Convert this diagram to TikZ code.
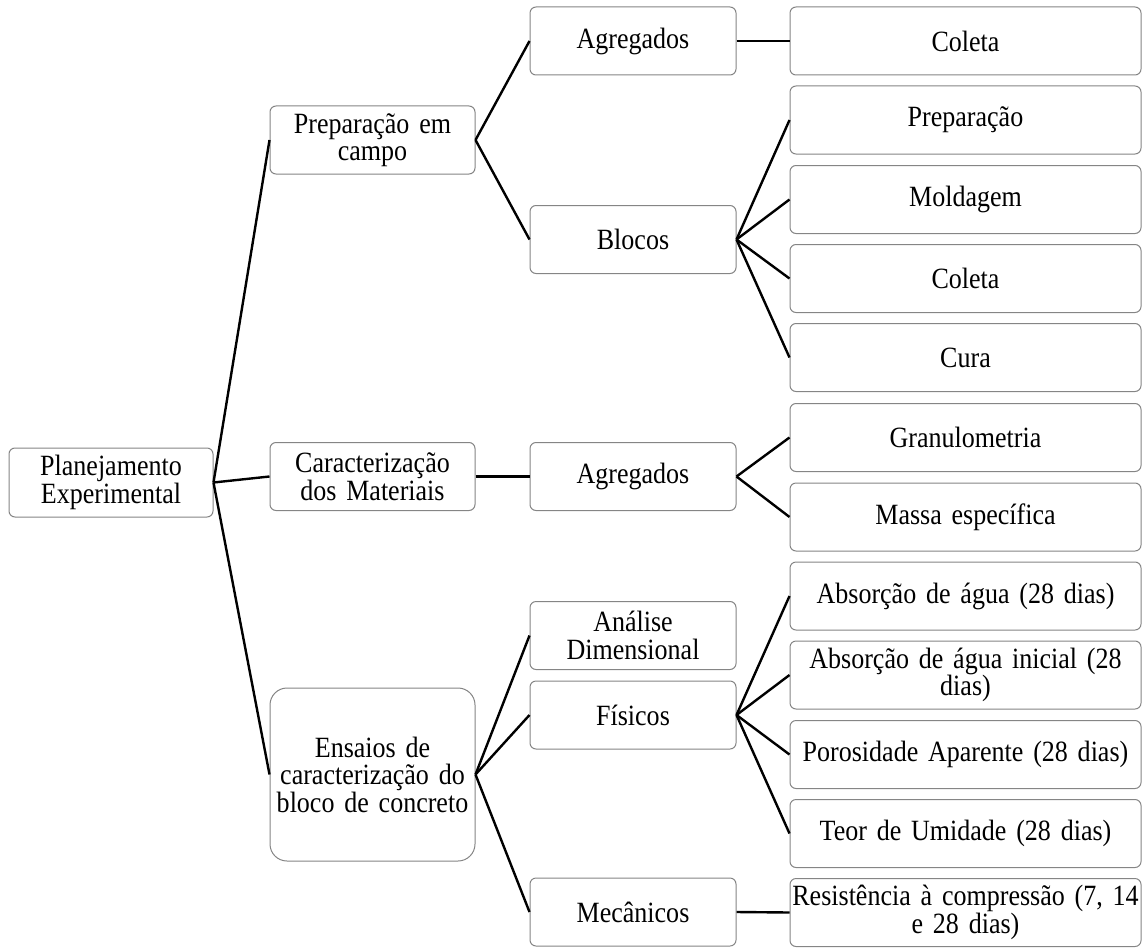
\documentclass[tikz,border=0pt]{standalone}
\usepackage{fontspec}
\setmainfont{Liberation Serif}[FakeStretch=0.885]
\begin{document}
\begin{tikzpicture}[x=1pt,y=-1pt,
  box/.style={draw=black!48, line width=1pt, rounded corners=6pt, fill=white,
    inner sep=0pt, align=center, font=\fontsize{29.4}{27.5}\selectfont},
  c1/.style={box, minimum width=204pt, text width=198pt, minimum height=69pt},
  c2/.style={box, minimum width=205pt, text width=199pt, minimum height=68pt},
  c3/.style={box, minimum width=206pt, text width=200pt, minimum height=68pt},
  c4/.style={box, minimum width=351pt, text width=347pt, minimum height=68pt},
  link/.style={draw=black, line width=2.4pt}]
\useasboundingbox (0,0) rectangle (1142,947);
% column 1
\node[c1] (plan) at (111,482.5) {Planejamento\\Experimental};
% column 2
\node[c2] (prep) at (372.5,140) {Preparação em\\campo};
\node[c2] (carac) at (372.5,476.5) {Caracterização\\dos Materiais};
\node[c2, minimum height=173pt, rounded corners=17pt] (ens) at (372.5,774.5) {Ensaios de\\caracterização do\\bloco de concreto};
% column 3
\node[c3] (agr1) at (633,41) {Agregados};
\node[c3] (blo) at (633,239.5) {Blocos};
\node[c3] (agr2) at (633,476.5) {Agregados};
\node[c3] (ana) at (633,635.5) {Análise\\Dimensional};
\node[c3] (fis) at (633,715) {Físicos};
\node[c3] (mec) at (633,912) {Mecânicos};
% column 4
\node[c4] (col1) at (965.5,41) {Coleta};
\node[c4] (prp) at (965.5,120) {Preparação};
\node[c4] (mol) at (965.5,199.5) {Moldagem};
\node[c4] (col2) at (965.5,278.5) {Coleta};
\node[c4] (cur) at (965.5,357.5) {Cura};
\node[c4] (gra) at (965.5,437.5) {Granulometria};
\node[c4] (mas) at (965.5,517) {Massa específica};
\node[c4] (abs) at (965.5,596) {Absorção de água (28 dias)};
\node[c4] (absi) at (965.5,675) {Absorção de água inicial (28\\dias)};
\node[c4] (por) at (965.5,754.5) {Porosidade Aparente (28 dias)};
\node[c4] (teo) at (965.5,833.5) {Teor de Umidade (28 dias)};
\node[c4] (res) at (965.5,912.5) {Resistência à compressão (7, 14\\e 28 dias)};
% connectors
\draw[link] (plan.east) -- (prep.west);
\draw[link] (plan.east) -- (carac.west);
\draw[link] (plan.east) -- (ens.west);
\draw[link] (prep.east) -- (agr1.west);
\draw[link] (prep.east) -- (blo.west);
\draw[link] (agr1.east) -- (col1.west);
\draw[link] (blo.east) -- (prp.west);
\draw[link] (blo.east) -- (mol.west);
\draw[link] (blo.east) -- (col2.west);
\draw[link] (blo.east) -- (cur.west);
\draw[link] (carac.east) -- (agr2.west);
\draw[link] (agr2.east) -- (gra.west);
\draw[link] (agr2.east) -- (mas.west);
\draw[link] (ens.east) -- (ana.west);
\draw[link] (ens.east) -- (fis.west);
\draw[link] (ens.east) -- (mec.west);
\draw[link] (fis.east) -- (abs.west);
\draw[link] (fis.east) -- (absi.west);
\draw[link] (fis.east) -- (por.west);
\draw[link] (fis.east) -- (teo.west);
\draw[link] (mec.east) -- (res.west);
\end{tikzpicture}
\end{document}
